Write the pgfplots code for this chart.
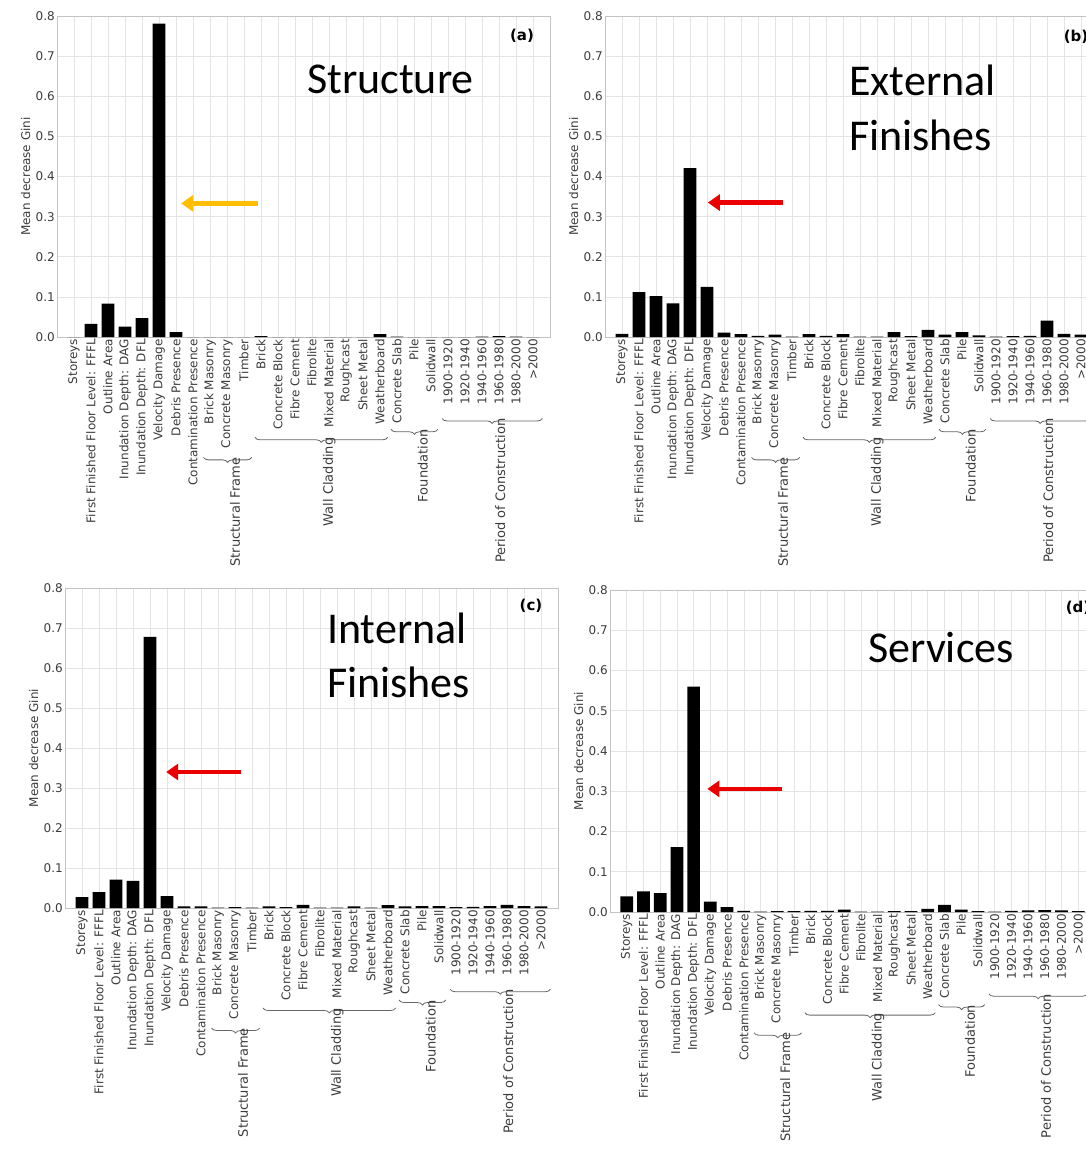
\documentclass[border=0pt]{standalone}
\usepackage{fontspec}
\setmainfont{DejaVu Sans}
\newfontfamily\carlito{Carlito}
\usepackage{pgfplots}
\usepackage{pgfplotstable}
\pgfplotsset{compat=1.18}
\usetikzlibrary{decorations.pathreplacing, arrows.meta}

\definecolor{txt}{RGB}{60,60,60}
\definecolor{gridc}{RGB}{228,228,228}
\definecolor{axc}{RGB}{195,195,195}
\definecolor{arrorange}{RGB}{255,190,0}
\definecolor{arrred}{RGB}{235,0,0}

\pgfplotstableread{
i a b c d
0 0.000 0.008 0.027 0.039
1 0.033 0.112 0.040 0.051
2 0.083 0.102 0.071 0.047
3 0.026 0.084 0.068 0.161
4 0.047 0.421 0.678 0.560
5 0.781 0.125 0.030 0.026
6 0.012 0.011 0.004 0.012
7 0.000 0.007 0.004 0.003
8 0.000 0.003 0.001 0.001
9 0.000 0.006 0.002 0.002
10 0.000 0.001 0.001 0.002
11 0.002 0.007 0.004 0.003
12 0.000 0.003 0.002 0.003
13 0.000 0.007 0.008 0.006
14 0.000 0.001 0.001 0.001
15 0.000 0.001 0.001 0.001
16 0.000 0.012 0.004 0.002
17 0.000 0.002 0.001 0.002
18 0.007 0.018 0.007 0.008
19 0.001 0.006 0.004 0.018
20 0.000 0.012 0.005 0.006
21 0.000 0.004 0.005 0.002
22 0.000 0.001 0.002 0.001
23 0.000 0.002 0.003 0.003
24 0.001 0.003 0.005 0.004
25 0.002 0.041 0.008 0.005
26 0.001 0.008 0.005 0.004
27 0.000 0.006 0.004 0.002
}\gini

\newcommand\smallfont{\fontsize{12}{14}\selectfont}
\newcommand\grpfont{\fontsize{13}{15}\selectfont}

\tikzset{
 bracest/.style={decorate, decoration={brace, mirror, amplitude=5pt}, draw=black!60, line width=0.8pt},
 grplab/.style={rotate=90, anchor=east, font=\grpfont, text=txt, inner sep=0pt},
 bigt/.style={anchor=base west, inner sep=0pt, font=\carlito\fontsize{44}{44}\selectfont},
 plab/.style={font=\bfseries\fontsize{15}{18}\selectfont},
}

\pgfplotsset{
 panel/.style={
  scale only axis,
  ymin=0, ymax=0.8, xmin=-1, xmax=28,
  xtick={0,...,27},
  xticklabels={Storeys, First Finished Floor Level: FFFL, Outline Area, Inundation Depth: DAG, Inundation Depth: DFL, Velocity Damage, Debris Presence, Contamination Presence, Brick Masonry, Concrete Masonry, Timber, Brick, Concrete Block, Fibre Cement, Fibrolite, Mixed Material, Roughcast, Sheet Metal, Weatherboard, Concrete Slab, Pile, Solidwall, 1900-1920, 1920-1940, 1940-1960, 1960-1980, 1980-2000, >2000},
  x tick label style={rotate=90, anchor=east, font=\smallfont, text=txt, inner sep=2pt},
  ytick={0,0.1,...,0.8},
  yticklabel style={font=\smallfont, text=txt, /pgf/number format/fixed, /pgf/number format/fixed zerofill, /pgf/number format/precision=1, inner sep=2pt},
  /pgf/number format/assume math mode=true,
  ylabel={Mean decrease Gini},
  ylabel style={font=\smallfont, text=txt},
  grid=major, major grid style={gridc, line width=0.6pt},
  axis line style={axc, line width=0.8pt},
  major tick length=0pt,
  clip=false,
 },
}

\newcommand\groups{%
 \draw[bracest] (axis cs:7.62,-0.300) -- (axis cs:10.45,-0.300);
 \node[grplab] at (axis cs:9.0,-0.300) [yshift=-8pt] {Structural Frame};
 \draw[bracest] (axis cs:10.65,-0.250) -- (axis cs:18.45,-0.250);
 \node[grplab] at (axis cs:14.55,-0.250) [yshift=-8pt] {Wall Cladding};
 \draw[bracest] (axis cs:18.65,-0.230) -- (axis cs:21.4,-0.230);
 \node[grplab] at (axis cs:20.05,-0.230) [yshift=-8pt] {Foundation};
 \draw[bracest] (axis cs:21.65,-0.203) -- (axis cs:27.55,-0.203);
 \node[grplab] at (axis cs:24.6,-0.203) [yshift=-8pt] {Period of Construction};
}

\begin{document}
\begin{tikzpicture}
\useasboundingbox (0pt,-1151pt) rectangle (1086pt,0pt);
\clip (0pt,-1151pt) rectangle (1086pt,0pt);

% (a)
\begin{axis}[panel, at={(57pt,-337pt)}, anchor=south west, width=493pt, height=321pt]
\addplot[ybar, bar width=0.76, fill=black, draw=none] table[x=i, y=a] {\gini};
\groups
\draw[arrorange, line width=4.5pt, -{Triangle[length=12pt, width=16pt]}] (axis cs:10.82,0.333) -- (axis cs:6.3,0.333);
\end{axis}

% (b)
\begin{axis}[panel, at={(605pt,-337pt)}, anchor=south west, width=493pt, height=321pt]
\addplot[ybar, bar width=0.76, fill=black, draw=none] table[x=i, y=b] {\gini};
\groups
\draw[arrred, line width=4.5pt, -{Triangle[length=12pt, width=16pt]}] (axis cs:9.47,0.335) -- (axis cs:5.05,0.335);
\end{axis}

% (c)
\begin{axis}[panel, at={(65pt,-908pt)}, anchor=south west, width=493pt, height=320pt]
\addplot[ybar, bar width=0.76, fill=black, draw=none] table[x=i, y=c] {\gini};
\groups
\draw[arrred, line width=4.5pt, -{Triangle[length=12pt, width=16pt]}] (axis cs:9.35,0.34) -- (axis cs:4.95,0.34);
\end{axis}

% (d)
\begin{axis}[panel, at={(610pt,-912pt)}, anchor=south west, width=485pt, height=322pt]
\addplot[ybar, bar width=0.76, fill=black, draw=none] table[x=i, y=d] {\gini};
\groups
\draw[arrred, line width=4.5pt, -{Triangle[length=12pt, width=16pt]}] (axis cs:9.29,0.306) -- (axis cs:4.82,0.306);
\end{axis}

% titles
\node[bigt] at (307pt,-93pt) {Structure};
\node[bigt] at (849pt,-95pt) {External};
\node[bigt] at (849pt,-150pt) {Finishes};
\node[bigt] at (327pt,-643pt) {Internal};
\node[bigt] at (327pt,-697pt) {Finishes};
\node[bigt] at (868pt,-662pt) {Services};

\node[plab] at (522pt,-36pt) {(a)};
\node[plab] at (1076pt,-37pt) {(b)};
\node[plab] at (531pt,-606pt) {(c)};
\node[plab] at (1078pt,-608pt) {(d)};
\end{tikzpicture}
\end{document}
